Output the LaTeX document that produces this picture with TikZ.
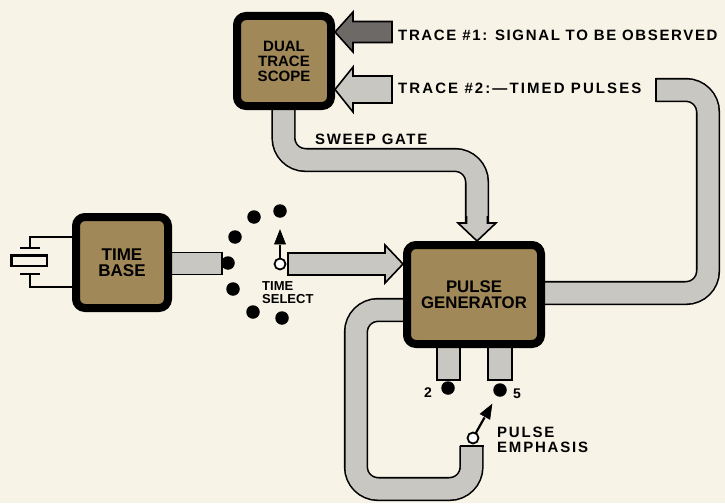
\documentclass[tikz,border=0pt]{standalone}
\usepackage{fontspec}
\setmainfont{Liberation Sans}
\usetikzlibrary{arrows.meta,calc}
\definecolor{bg}{HTML}{F7F3E7}
\definecolor{boxtan}{HTML}{A08858}
\definecolor{pipe}{HTML}{C9C7C2}
\definecolor{darkarrow}{HTML}{6D6966}
\tikzset{
  pipeline/.style={draw=black, line width=1.6pt, double=pipe, double distance=21pt, rounded corners=22pt},
  capline/.style={line width=1.6pt},
  arrowshape/.style={fill=pipe, draw=black, line width=1.6pt, line join=miter},
  unitbox/.style={draw=black, fill=boxtan, line width=8pt, rounded corners=9pt, align=center, inner sep=0pt},
  dot/.style={circle, fill=black, inner sep=0pt, minimum size=13.5pt},
  pivot/.style={circle, draw=black, fill=white, line width=1.8pt, inner sep=0pt, minimum size=11pt},
  lab/.style={anchor=west, inner sep=0pt, align=left, font=\bfseries\fontsize{15}{15}\selectfont\addfontfeature{LetterSpace=11}},
  wire/.style={line width=2.2pt, line cap=butt, line join=miter},
  ptrline/.style={line width=2.2pt},
  ptrhead/.style={fill=black, draw=black, line width=0.6pt, line join=miter}
}
\begin{document}
\begin{tikzpicture}[x=1pt,y=-1pt]
\useasboundingbox (0,0) rectangle (725,503);
\fill[bg] (0,0) rectangle (725,503);

% ---- unit boxes (positions) ----
\coordinate (scopeC) at (284,61);
\coordinate (tbC) at (122,262.5);
\coordinate (pgC) at (474,294.5);

% ---- pipes ----
% sweep gate
\coordinate (sg0) at (283.5,100);
\coordinate (sg1) at (283.5,160);
\coordinate (sg2) at (477,160);
\coordinate (sg3) at (477,223);
\draw[pipeline] (sg0) -- (sg1) -- (sg2) -- (sg3);
\filldraw[arrowshape] (466.5,216) -- (466.5,223) -- (458,223) -- (477,241) -- (496,223) -- (487.5,223) -- (487.5,216);

% trace 2 return pipe
\coordinate (rp0) at (655.75,90);
\coordinate (rp1) at (708,90);
\coordinate (rp2) at (708,293);
\coordinate (rp3) at (535,293);
\draw[pipeline] (rp0) -- (rp1) -- (rp2) -- (rp3);
\draw[capline] ($(rp0)+(0,-12)$) -- ($(rp0)+(0,12)$);

% pulse emphasis loop
\coordinate (lp0) at (415,310);
\coordinate (lp1) at (356,310);
\coordinate (lp2) at (356,489);
\coordinate (lp3) at (471.5,489);
\coordinate (lp4) at (471.5,445.75);
\draw[pipeline] (lp0) -- (lp1) -- (lp2) -- (lp3) -- (lp4);
\draw[capline] ($(lp4)+(-12,0)$) -- ($(lp4)+(12,0)$);

% time base output stub
\filldraw[fill=pipe, draw=black, line width=1.6pt] (165,252.5) rectangle (222,274.5);

% pulse generator output stubs
\filldraw[fill=pipe, draw=black, line width=1.6pt] (437,340) rectangle (460,380);
\filldraw[fill=pipe, draw=black, line width=1.6pt] (488,340) rectangle (512,380);

% time select arrow into pulse generator
\filldraw[arrowshape] (288,253) -- (385,253) -- (385,245) -- (403,264) -- (385,283) -- (385,275) -- (288,275) -- cycle;

% trace arrows into scope
\filldraw[arrowshape, fill=darkarrow] (392,21.5) -- (353,21.5) -- (353,12) -- (335,32) -- (353,52) -- (353,42.5) -- (392,42.5) -- cycle;
\filldraw[arrowshape] (392,76) -- (353,76) -- (353,67) -- (335,89.5) -- (353,112) -- (353,103) -- (392,103) -- cycle;

% ---- boxes ----
\node[unitbox, minimum width=94pt, minimum height=90pt, font=\bfseries\fontsize{15}{15}\selectfont] (scope) at (scopeC) {DUAL\\TRACE\\SCOPE};
\node[unitbox, minimum width=92pt, minimum height=91pt, font=\bfseries\fontsize{17}{16.5}\selectfont] (tb) at (tbC) {TIME\\BASE};
\node[unitbox, minimum width=134pt, minimum height=99pt, font=\bfseries\fontsize{16.8}{16}\selectfont] (pg) at (pgC) {PULSE\\GENERATOR};

% ---- crystal ----
\draw[wire] (tb.west |- 0,237) -- (30,237) -- (30,248);
\draw[wire] (20,248) -- (40,248);
\draw[wire] (11.5,255.5) rectangle (47,266);
\draw[wire] (20,274) -- (40,274);
\draw[wire] (30,274) -- (30,287) -- (tb.west |- 0,287);

% ---- time select switch ----
\node[dot] (ts0) at (228,263) {};
\node[dot] (ts1) at (235,237) {};
\node[dot] (ts2) at (254,217) {};
\node[dot] (ts3) at (280,211) {};
\node[dot] (ts4) at (233,289) {};
\node[dot] (ts5) at (253,312) {};
\node[dot] (ts6) at (282,318) {};
\node[pivot] (tsp) at (280,264) {};
\coordinate (tstip) at (280,230);
\coordinate (tsbase) at ($(tstip)!14pt!(tsp)$);
\draw[ptrline] (tsp.north) -- ($(tsbase)!-1pt!(tstip)$);
\filldraw[ptrhead] (tstip) -- ($(tsbase)!5.5pt!90:(tstip)$) -- ($(tsbase)!5.5pt!-90:(tstip)$) -- cycle;

% ---- pulse emphasis switch ----
\node[dot] (pe2) at (448,388) {};
\node[dot] (pe5) at (500,390) {};
\node[pivot] (pep) at (473,438) {};
\coordinate (petip) at ($(pep)!0.7!(pe5)$);
\coordinate (pebase) at ($(petip)!14pt!(pep)$);
\draw[ptrline] ($(pep)!5.5pt!(pe5)$) -- ($(pebase)!-1pt!(petip)$);
\filldraw[ptrhead] (petip) -- ($(pebase)!5.5pt!90:(petip)$) -- ($(pebase)!5.5pt!-90:(petip)$) -- cycle;

% ---- labels ----
\node[lab] (t1) at (398,35) {TRACE \#1: SIGNAL TO BE OBSERVED};
\node[lab, font=\bfseries\fontsize{15}{15}\selectfont\addfontfeature{LetterSpace=14}] (t2) at (398,88) {TRACE \#2:—TIMED PULSES};
\node[lab] (sw) at (315,139) {SWEEP GATE};
\node[lab, font=\bfseries\fontsize{13}{13}\selectfont] (tsl) at (262,293) {TIME\\SELECT};
\node[lab, font=\bfseries\fontsize{15}{15.5}\selectfont\addfontfeature{LetterSpace=12}] (pel) at (497,440) {PULSE\\EMPHASIS};
\node[inner sep=0pt, font=\bfseries\fontsize{14}{14}\selectfont] (n2) at (428,393) {2};
\node[inner sep=0pt, font=\bfseries\fontsize{14}{14}\selectfont] (n5) at (517,394) {5};
\end{tikzpicture}
\end{document}
